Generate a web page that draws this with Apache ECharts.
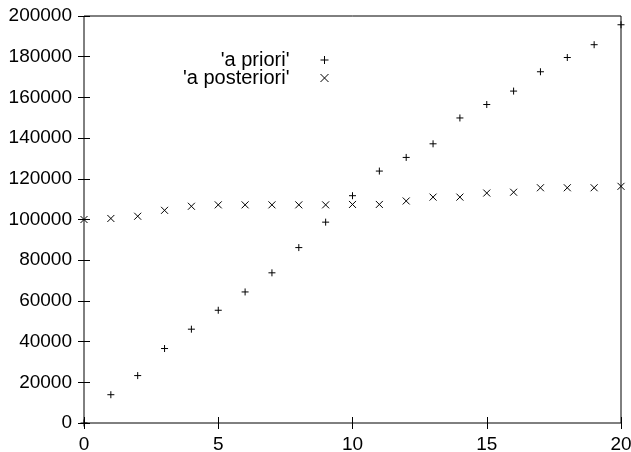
<!DOCTYPE html>
<html lang="en">

<head>
    <meta charset="UTF-8">
    <title>a priori / a posteriori</title>
    <style>
        * {
            margin: 0;
            padding: 0;
        }

        #chart {
            width: 631px;
            height: 452px;
            background: #fff;
        }
    </style>
</head>

<body>
    <div id="chart"></div>
    <script src="https://cdn.jsdelivr.net/npm/echarts@6/dist/echarts.min.js"></script>
    <script type="text/javascript">
        // x positions and the two series
        var steps = [0, 1, 2, 3, 4, 5, 6, 7, 8, 9, 10, 11, 12, 13, 14, 15, 16, 17, 18, 19, 20];
        var aPriori = [0, 13900, 23300, 36600, 46100, 55400, 64400, 73800, 86200, 98700, 111700,
            123800, 130500, 137200, 149900, 156500, 163100, 172600, 179600, 185900, 195700];
        var aPosteriori = [100000, 100500, 101600, 104500, 106500, 107200, 107200, 107200, 107200, 107200, 107400,
            107400, 109100, 111000, 111000, 113000, 113400, 115600, 115600, 115600, 116300];
        var xTicks = { min: 0, max: 20, interval: 5 };
        var yTicks = { min: 0, max: 200000, interval: 20000 };

        var plusPath = 'path://M0,-1L0,1M-1,0L1,0';
        var crossPath = 'path://M-1,-1L1,1M-1,1L1,-1';
        var font = 'Liberation Sans';

        function pairs(xs, ys) {
            return xs.map(function (x, i) { return [x, ys[i]]; });
        }

        var chart = echarts.init(document.getElementById('chart'));

        var tickOnly = {
            axisLine: { show: false },
            axisTick: { inside: true, length: 6, lineStyle: { color: '#000', width: 1 } },
            splitLine: { show: false }
        };

        chart.setOption({
            animation: false,
            grid: {
                left: 84, right: 10, top: 16, bottom: 29,
                outerBoundsMode: 'none',
                containLabel: false,
                show: true, borderColor: '#000', borderWidth: 1
            },
            legend: {
                orient: 'vertical',
                align: 'right',
                right: 295,
                top: 45,
                itemWidth: 60,
                itemHeight: 8,
                itemGap: -2,
                symbolKeepAspect: true,
                textStyle: { fontFamily: font, fontSize: 20, lineHeight: 17, color: '#000' },
                data: [
                    { name: "'a priori'", icon: plusPath, itemStyle: { color: 'none', borderColor: '#000', borderWidth: 1 } },
                    { name: "'a posteriori'", icon: crossPath, itemStyle: { color: 'none', borderColor: '#000', borderWidth: 1 } }
                ]
            },
            xAxis: [
                Object.assign({
                    type: 'value', position: 'bottom',
                    min: xTicks.min, max: xTicks.max, interval: xTicks.interval,
                    axisLabel: { margin: 12, fontFamily: font, fontSize: 19, color: '#000' }
                }, tickOnly),
                Object.assign({
                    type: 'value', position: 'top',
                    min: xTicks.min, max: xTicks.max, interval: xTicks.interval,
                    axisLabel: { show: false }
                }, tickOnly)
            ],
            yAxis: [
                Object.assign({
                    type: 'value', position: 'left',
                    min: yTicks.min, max: yTicks.max, interval: yTicks.interval,
                    axisLabel: {
                        margin: 12, fontFamily: font, fontSize: 19, color: '#000',
                        formatter: function (v) { return String(v); }
                    }
                }, tickOnly),
                Object.assign({
                    type: 'value', position: 'right',
                    min: yTicks.min, max: yTicks.max, interval: yTicks.interval,
                    axisLabel: { show: false }
                }, tickOnly)
            ],
            series: [
                {
                    name: "'a priori'",
                    type: 'scatter',
                    clip: false,
                    symbol: plusPath,
                    symbolSize: 7,
                    itemStyle: { color: 'none', borderColor: '#000', borderWidth: 1, opacity: 1 },
                    data: pairs(steps, aPriori)
                },
                {
                    name: "'a posteriori'",
                    type: 'scatter',
                    clip: false,
                    symbol: crossPath,
                    symbolSize: 7,
                    itemStyle: { color: 'none', borderColor: '#000', borderWidth: 1, opacity: 1 },
                    data: pairs(steps, aPosteriori)
                }
            ]
        });
    </script>
</body>

</html>
